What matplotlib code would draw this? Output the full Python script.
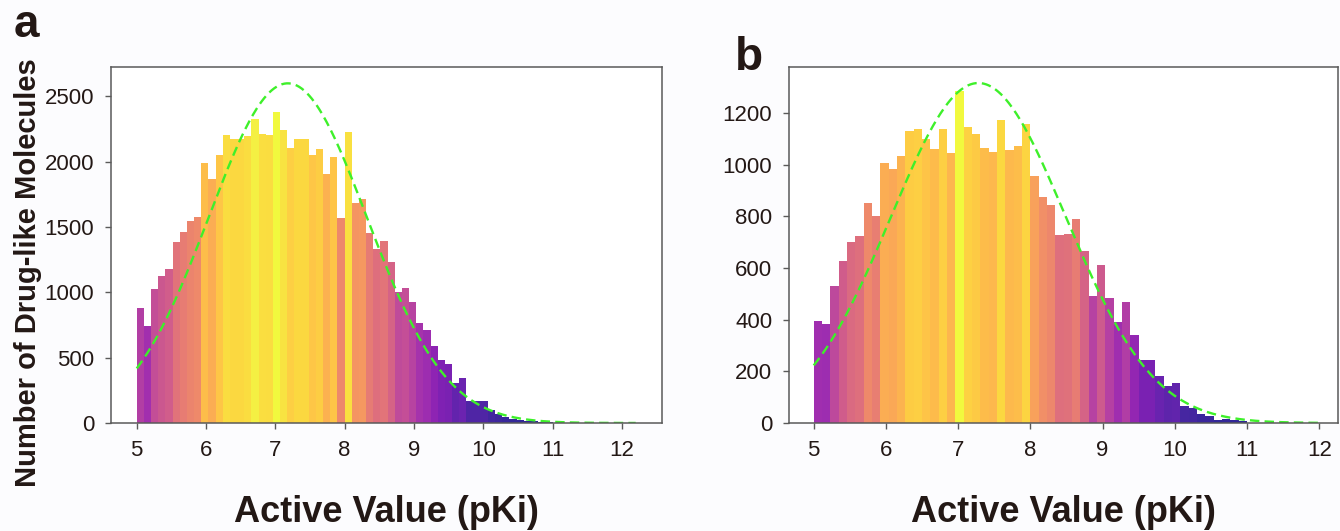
import numpy as np
import matplotlib
matplotlib.use('Agg')
import matplotlib.pyplot as plt
from matplotlib import colors

plt.rcParams['font.family'] = ['Liberation Sans', 'DejaVu Sans']

# ---------------- data ----------------
# panel a: 58 equal bins between 5 and 11
a_counts = [880, 742, 1028, 1125, 1179, 1385, 1462, 1543, 1579, 1992,
            1865, 2048, 2204, 2176, 2176, 2199, 2324, 2209, 2202, 2383,
            2240, 2107, 2173, 2171, 2051, 2099, 1906, 2033, 1569, 2224,
            1684, 1712, 1454, 1332, 1390, 1232, 1003, 1036, 926, 768,
            709, 589, 485, 452, 306, 347, 171, 171, 171, 97,
            66, 46, 33, 26, 18, 15, 10, 8]
a_range = [5.0, 11.0]
# fitted normal curve of panel a
a_fit_mean = 7.18
a_fit_std = 1.14
a_fit_peak = 2600
a_fit_span = [5.0, 12.2]

# panel b: 52 equal bins between 5 and 11
b_counts = [394, 385, 529, 628, 699, 725, 852, 803, 1006, 985,
            1034, 1129, 1139, 1098, 1062, 1138, 1046, 1285, 1146, 1120,
            1066, 1050, 1172, 1055, 1072, 1157, 957, 874, 843, 727,
            733, 791, 666, 492, 613, 483, 392, 470, 341, 245,
            243, 183, 142, 155, 65, 58, 34, 28, 13, 17,
            13, 8]
b_range = [5.0, 11.0]
b_fit_mean = 7.28
b_fit_std = 1.21
b_fit_peak = 1316
b_fit_span = [5.0, 12.0]

x_ticks = [5, 6, 7, 8, 9, 10, 11, 12]
a_yticks = [0, 500, 1000, 1500, 2000, 2500]
b_yticks = [0, 200, 400, 600, 800, 1000, 1200]

xlabel = 'Active Value (pKi)'
ylabel = 'Number of Drug-like Molecules'

TXT = '#231815'
SPINE = '#5a5a5a'
BG = '#fcfcfe'

fig = plt.figure(figsize=(13.4, 5.31), dpi=100, facecolor=BG)
W, H = 1340, 531


def add_axes(left, top, right, bottom):
    return fig.add_axes([left / W, 1 - bottom / H, (right - left) / W, (bottom - top) / H])


def draw_panel(ax, counts, rng, mean, std, peak, span, yticks, xlim, ylim):
    counts = np.asarray(counts, dtype=float)
    edges = np.linspace(rng[0], rng[1], len(counts) + 1)
    norm = colors.Normalize(vmin=0, vmax=counts.max())
    cmap = plt.get_cmap('plasma')
    cols = cmap(norm(counts))
    ax.bar(edges[:-1], counts, width=np.diff(edges), align='edge',
           color=cols, alpha=0.87, linewidth=0)
    xs = np.linspace(span[0], span[1], 400)
    ys = peak * np.exp(-0.5 * ((xs - mean) / std) ** 2)
    ax.plot(xs, ys, linestyle=(0, (4, 2.2)), color='#3ef02a', lw=1.7)
    ax.set_xlim(*xlim)
    ax.set_ylim(*ylim)
    ax.set_xticks(x_ticks)
    ax.set_yticks(yticks)
    ax.set_facecolor('white')
    for s in ax.spines.values():
        s.set_color(SPINE)
        s.set_linewidth(1.1)
    ax.tick_params(direction='out', length=4, width=1.0, color=SPINE,
                   labelsize=16, labelcolor=TXT, pad=8)
    ax.set_xlabel(xlabel, fontsize=26, fontweight='bold', color=TXT, labelpad=25)


ax_a = add_axes(111, 67, 662, 423)
draw_panel(ax_a, a_counts, a_range, a_fit_mean, a_fit_std, a_fit_peak, a_fit_span,
           a_yticks, (4.629, 12.58), (0, 2725))

ax_b = add_axes(789, 67, 1338, 423)
draw_panel(ax_b, b_counts, b_range, b_fit_mean, b_fit_std, b_fit_peak, b_fit_span,
           b_yticks, (4.658, 12.26), (0, 1378))

fig.text(28 / W, 1 - 273 / H, ylabel, rotation=90, ha='center', va='center',
         fontsize=21, fontweight='bold', color=TXT)
fig.text(26 / W, 1 - 37 / H, 'a', ha='center', va='baseline',
         fontsize=33, fontweight='bold', color=TXT)
fig.text(749 / W, 1 - 70 / H, 'b', ha='center', va='baseline',
         fontsize=33, fontweight='bold', color=TXT)

fig.savefig('out.png', dpi=100, facecolor=BG)
